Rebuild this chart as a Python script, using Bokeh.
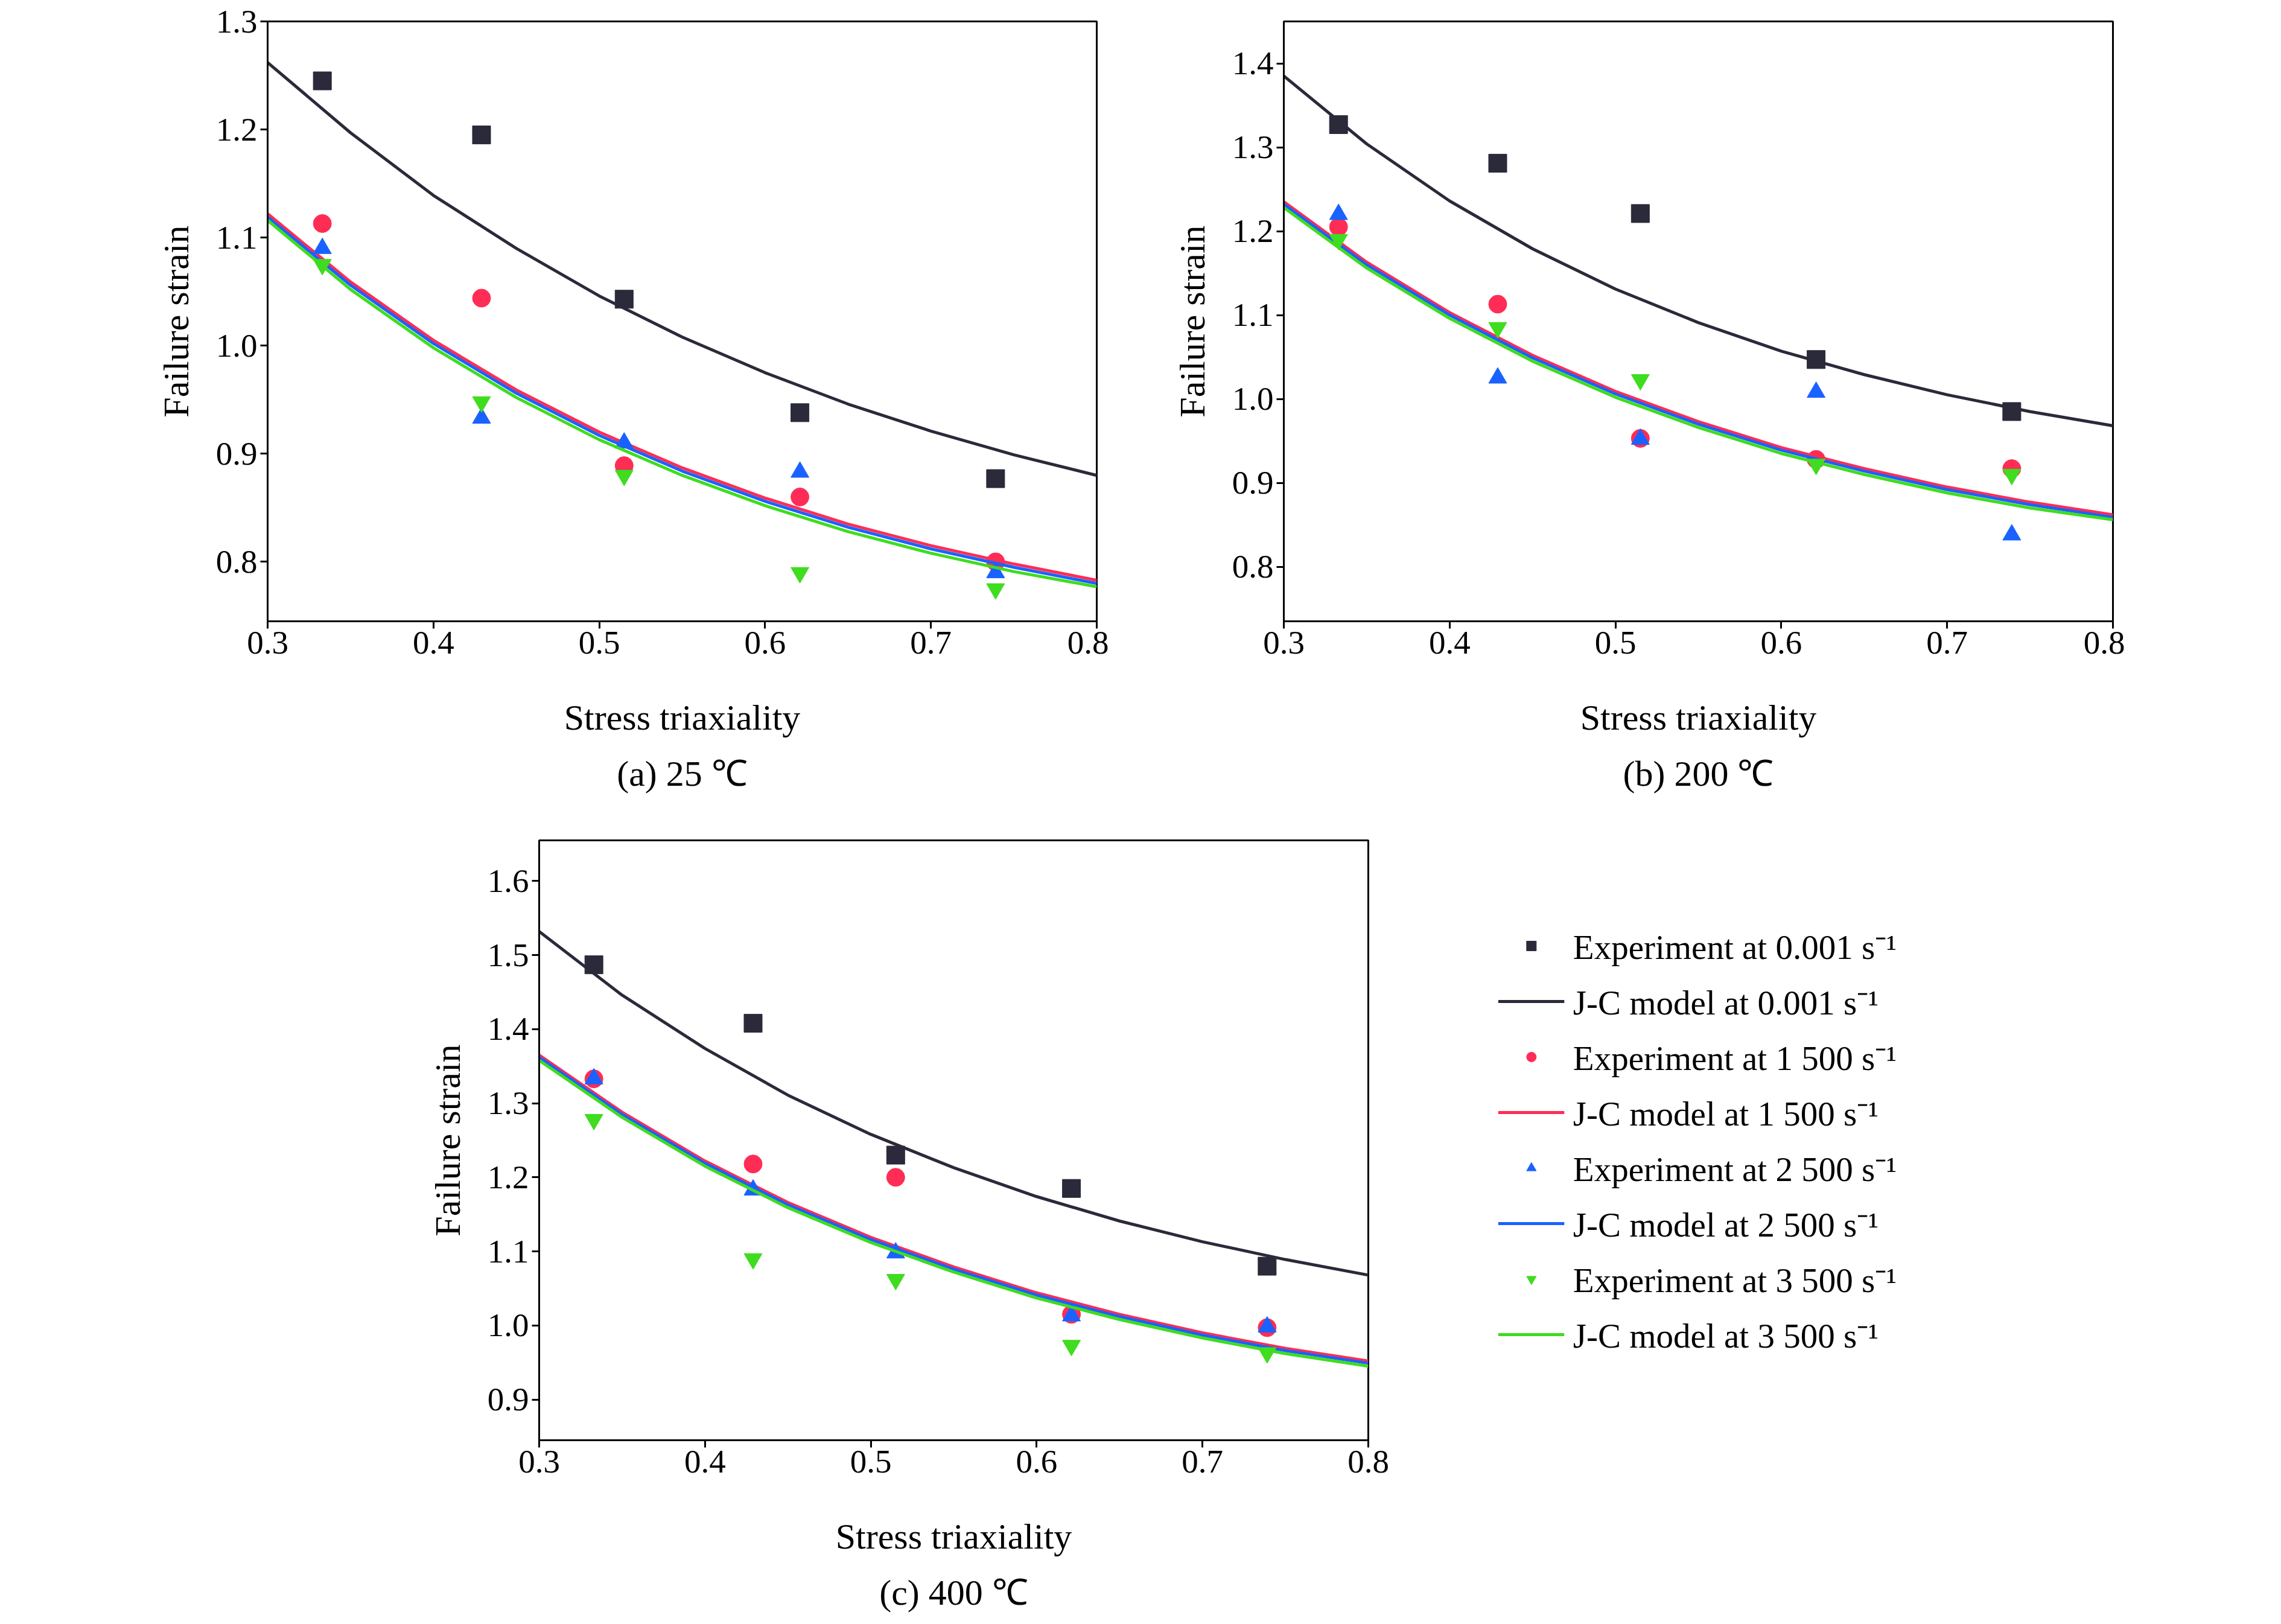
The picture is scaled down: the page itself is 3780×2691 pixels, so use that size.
from bokeh.plotting import figure
from bokeh.layouts import column, row
from bokeh.models import Spacer, Title, Legend, LegendItem, Range1d, FixedTicker, NumeralTickFormatter
from bokeh.embed import file_html
from bokeh.resources import INLINE

eta = [0.333, 0.429, 0.515, 0.621, 0.739]
xc = [0.30, 0.35, 0.40, 0.45, 0.50, 0.55, 0.60, 0.65, 0.70, 0.75, 0.80]

a_exp = {
    "0.001": [1.245, 1.195, 1.043, 0.938, 0.877],
    "1 500": [1.113, 1.044, 0.889, 0.860, 0.800],
    "2 500": [1.090, 0.933, 0.910, 0.883, 0.790],
    "3 500": [1.075, 0.948, 0.880, 0.790, 0.775],
}
a_jc = {
    "0.001": [1.262, 1.197, 1.139, 1.090, 1.046, 1.008, 0.975, 0.946, 0.921, 0.899, 0.880],
    "1 500": [1.122, 1.059, 1.005, 0.959, 0.920, 0.887, 0.859, 0.835, 0.815, 0.798, 0.783],
    "2 500": [1.119, 1.056, 1.002, 0.956, 0.917, 0.884, 0.856, 0.832, 0.812, 0.795, 0.780],
    "3 500": [1.116, 1.052, 0.998, 0.952, 0.913, 0.880, 0.852, 0.828, 0.808, 0.791, 0.777],
}
b_exp = {
    "0.001": [1.327, 1.281, 1.221, 1.047, 0.985],
    "1 500": [1.205, 1.113, 0.953, 0.928, 0.917],
    "2 500": [1.220, 1.025, 0.952, 1.008, 0.838],
    "3 500": [1.190, 1.085, 1.023, 0.922, 0.910],
}
b_jc = {
    "0.001": [1.385, 1.304, 1.236, 1.179, 1.131, 1.091, 1.057, 1.029, 1.005, 0.985, 0.968],
    "1 500": [1.235, 1.163, 1.103, 1.052, 1.009, 0.973, 0.942, 0.917, 0.895, 0.877, 0.862],
    "2 500": [1.232, 1.160, 1.100, 1.049, 1.006, 0.970, 0.939, 0.914, 0.892, 0.874, 0.859],
    "3 500": [1.228, 1.156, 1.096, 1.045, 1.002, 0.966, 0.935, 0.910, 0.888, 0.870, 0.856],
}
c_exp = {
    "0.001": [1.487, 1.408, 1.230, 1.185, 1.080],
    "1 500": [1.333, 1.218, 1.200, 1.015, 0.997],
    "2 500": [1.333, 1.183, 1.098, 1.013, 0.998],
    "3 500": [1.278, 1.090, 1.062, 0.973, 0.963],
}
c_jc = {
    "0.001": [1.532, 1.446, 1.374, 1.311, 1.258, 1.213, 1.174, 1.141, 1.113, 1.089, 1.068],
    "1 500": [1.365, 1.288, 1.222, 1.166, 1.119, 1.079, 1.044, 1.015, 0.990, 0.969, 0.952],
    "2 500": [1.362, 1.285, 1.219, 1.163, 1.116, 1.076, 1.041, 1.012, 0.987, 0.966, 0.949],
    "3 500": [1.358, 1.281, 1.215, 1.159, 1.112, 1.072, 1.037, 1.008, 0.983, 0.962, 0.945],
}
rates = ["0.001", "1 500", "2 500", "3 500"]
colors = {"0.001": "#2a2a3a", "1 500": "#ff2d55", "2 500": "#1a62ff", "3 500": "#3fdc1f"}
markers = {"0.001": "square", "1 500": "circle", "2 500": "triangle", "3 500": "inverted_triangle"}

FONT = "Liberation Serif"

def panel(exp, jc, yr, yticks, caption, bl, br, bt, bb, legend=False):
    p = figure(output_backend="svg", toolbar_location=None,
               frame_width=1374, frame_height=994,
               x_range=Range1d(0.3, 0.8), y_range=Range1d(*yr),
               min_border_left=bl, min_border_right=br,
               min_border_top=bt, min_border_bottom=bb)
    p.grid.visible = False
    p.outline_line_color = "black"
    p.outline_line_width = 3
    p.background_fill_color = "white"
    p.xaxis.ticker = FixedTicker(ticks=[0.3, 0.4, 0.5, 0.6, 0.7, 0.8])
    p.yaxis.ticker = FixedTicker(ticks=yticks)
    p.xaxis.formatter = NumeralTickFormatter(format="0.0")
    p.yaxis.formatter = NumeralTickFormatter(format="0.0")
    p.xaxis.axis_label = "Stress triaxiality"
    p.yaxis.axis_label = "Failure strain"
    for ax in (p.xaxis[0], p.yaxis[0]):
        ax.axis_label_text_font = FONT
        ax.axis_label_text_font_style = "normal"
        ax.axis_label_text_font_size = "60px"
        ax.axis_label_text_color = "black"
        ax.major_label_text_font = FONT
        ax.major_label_text_font_size = "55px"
        ax.major_label_text_color = "black"
        ax.axis_line_width = 3
        ax.major_tick_line_width = 3
        ax.major_tick_out = 12
        ax.major_tick_in = 0
        ax.minor_tick_line_color = None
    p.xaxis.axis_label_standoff = 70
    p.yaxis.axis_label_standoff = 30
    items = []
    for r in rates:
        s = p.scatter(eta, exp[r], marker=markers[r], size=30, color=colors[r])
        l = p.line(xc, jc[r], line_color=colors[r], line_width=5)
        items.append(LegendItem(label=f"Experiment at {r} s\u207b\u00b9", renderers=[s]))
        items.append(LegendItem(label=f"J-C model at {r} s\u207b\u00b9", renderers=[l]))
    t = Title(text=caption, align="center", text_font=FONT, text_font_size="60px",
              text_font_style="normal", text_color="black", standoff=45)
    p.add_layout(t, "below")
    if legend:
        lg = Legend(items=items, location="center", label_text_font=FONT,
                    label_text_font_size="57px", label_text_color="black",
                    spacing=14, glyph_width=110,
                    glyph_height=40, border_line_color=None, margin=20,
                    label_standoff=15, background_fill_alpha=0)
        p.add_layout(lg, "right")
    return p

pa = panel(a_exp, a_jc, (0.745, 1.3), [0.8, 0.9, 1.0, 1.1, 1.2, 1.3], "(a) 25 \u2103", 443, 20, 35, 300)
pb = panel(b_exp, b_jc, (0.735, 1.45), [0.8, 0.9, 1.0, 1.1, 1.2, 1.3, 1.4], "(b) 200 \u2103", 290, 20, 35, 300)
pc = panel(c_exp, c_jc, (0.845, 1.655), [0.9, 1.0, 1.1, 1.2, 1.3, 1.4, 1.5, 1.6], "(c) 400 \u2103", 443, 20, 55, 260, legend=True)

layout = column(row(pa, pb), row(Spacer(width=450, height=10), pc))
open("out.html", "w").write(file_html(layout, INLINE))
